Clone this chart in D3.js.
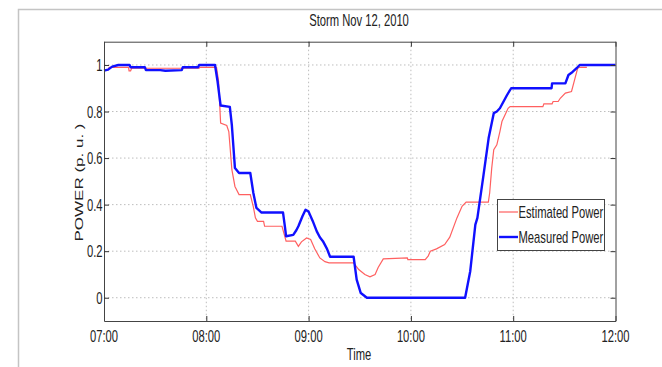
<!DOCTYPE html>
<html><head><meta charset="utf-8">
<script src="https://cdn.jsdelivr.net/npm/d3@7"></script>
<style>
html,body{margin:0;padding:0;background:#fff;}
svg{display:block;}
text{font-family:"Liberation Sans",Arial,sans-serif;fill:#222;}
</style></head>
<body>
<svg id="chart" width="662" height="367"></svg>
<script>
const title = "Storm Nov 12, 2010";
const xTickValues = [7, 8, 9, 10, 11, 12];
const xTickLabels = ["07:00", "08:00", "09:00", "10:00", "11:00", "12:00"];
const yTickValues = [0, 0.2, 0.4, 0.6, 0.8, 1];
const yTickLabels = ["0", "0.2", "0.4", "0.6", "0.8", "1"];
const seriesNames = ["Estimated Power", "Measured Power"];

// Measured power (blue): time in hours, value in p.u.
const measuredTime = [7.00,7.04,7.08,7.14,7.25,7.26,7.40,7.41,7.55,7.60,7.76,7.77,7.92,7.93,8.085,8.11,8.13,8.14,8.23,8.25,8.28,8.32,8.43,8.46,8.49,8.54,8.75,8.77,8.78,8.85,8.88,8.90,8.94,8.97,9.00,9.04,9.08,9.11,9.14,9.18,9.21,9.44,9.47,9.51,9.57,10.53,10.58,10.63,10.65,10.71,10.76,10.81,10.84,10.87,10.94,10.98,11.375,11.38,11.51,11.54,11.58,11.62,11.65,12.00];
const measuredValue = [0.976,0.98,0.993,1.0,1.0,0.99,0.99,0.978,0.978,0.975,0.978,0.99,0.99,1.0,1.0,0.93,0.86,0.826,0.82,0.74,0.557,0.536,0.536,0.45,0.386,0.366,0.366,0.30,0.264,0.27,0.29,0.307,0.35,0.378,0.37,0.33,0.285,0.26,0.243,0.21,0.176,0.176,0.078,0.02,0.0,0.0,0.114,0.314,0.343,0.528,0.686,0.793,0.80,0.814,0.871,0.9,0.9,0.921,0.921,0.957,0.97,0.986,1.0,1.0];

// Estimated power (red)
const estimatedTime = [7.00,7.04,7.05,7.24,7.245,7.26,7.27,7.93,7.94,8.10,8.12,8.14,8.20,8.22,8.25,8.28,8.32,8.43,8.46,8.48,8.50,8.56,8.57,8.74,8.78,8.87,8.90,8.93,8.98,9.02,9.06,9.11,9.16,9.20,9.44,9.49,9.55,9.60,9.65,9.68,9.73,9.965,9.97,10.14,10.17,10.19,10.25,10.33,10.38,10.45,10.50,10.54,10.757,10.77,10.79,10.81,10.84,10.87,10.89,10.95,10.97,11.29,11.30,11.38,11.39,11.44,11.46,11.51,11.57,11.60,11.63,11.65,11.72];
const estimatedValue = [0.98,0.98,0.99,0.99,0.975,0.975,0.986,0.986,0.99,0.99,0.93,0.75,0.74,0.714,0.55,0.478,0.443,0.443,0.39,0.343,0.328,0.328,0.307,0.307,0.243,0.243,0.221,0.24,0.257,0.25,0.21,0.171,0.155,0.15,0.15,0.121,0.10,0.09,0.10,0.13,0.167,0.171,0.164,0.164,0.18,0.2,0.21,0.228,0.26,0.343,0.393,0.411,0.411,0.45,0.557,0.636,0.657,0.714,0.757,0.814,0.821,0.821,0.833,0.833,0.843,0.843,0.857,0.879,0.886,0.936,0.986,0.99,0.99];

const W = 662, H = 367;
const m = {left:104, right:46.5, top:41.7, bottom:46};
const svg = d3.select("#chart");
const SX = 0.66; // horizontal squeeze of the original text
const FS = 17;

// figure frame
svg.append("path").attr("d", `M18.5,${H} L18.5,9.5 L${W},9.5`).attr("fill","none").attr("stroke","#c4c4c4").attr("stroke-width",1.5);

const x = d3.scaleLinear().domain([7,12]).range([m.left, W-m.right]);
const y = d3.scaleLinear().domain([-0.1,1.1]).range([H-m.bottom, m.top]);

const g = svg.append("g");
// grid
g.selectAll(".gx").data(xTickValues.slice(1,-1)).enter().append("line")
  .attr("x1",d=>x(d)).attr("x2",d=>x(d)).attr("y1",y(1.1)).attr("y2",y(-0.1))
  .attr("stroke","#bdbdbd").attr("stroke-dasharray","1.5,2.5").attr("stroke-width",1);
g.selectAll(".gy").data(yTickValues).enter().append("line")
  .attr("y1",d=>y(d)).attr("y2",d=>y(d)).attr("x1",x(7)).attr("x2",x(12))
  .attr("stroke","#bdbdbd").attr("stroke-dasharray","1.5,2.5").attr("stroke-width",1);

// lines
const line = d3.line().x(d=>x(d[0])).y(d=>y(d[1]));
const est = estimatedTime.map((t,i)=>[t, estimatedValue[i]]);
const mea = measuredTime.map((t,i)=>[t, measuredValue[i]]);
g.append("path").datum(est).attr("d",line).attr("fill","none").attr("stroke","#ff6060").attr("stroke-width",1.2);
g.append("path").datum(mea).attr("d",line).attr("fill","none").attr("stroke","#1010ff").attr("stroke-width",2.4).attr("stroke-linejoin","round");

// axes box
const bottomAxis = d3.axisBottom(x).tickValues(xTickValues).tickSizeInner(-5).tickSizeOuter(0).tickFormat("");
const topAxis = d3.axisTop(x).tickValues(xTickValues).tickSizeInner(-5).tickSizeOuter(0).tickFormat("");
const leftAxis = d3.axisLeft(y).tickValues(yTickValues).tickSizeInner(-5).tickSizeOuter(0).tickFormat("");
const rightAxis = d3.axisRight(y).tickValues(yTickValues).tickSizeInner(-5).tickSizeOuter(0).tickFormat("");
function styleAxis(s){ s.selectAll("path,line").attr("stroke","#333"); s.select(".domain").attr("stroke","#444"); }
svg.append("g").attr("transform",`translate(0,${y(-0.1)})`).call(bottomAxis).call(styleAxis);
svg.append("g").attr("transform",`translate(0,${y(1.1)})`).call(topAxis).call(styleAxis);
svg.append("g").attr("transform",`translate(${x(7)},0)`).call(leftAxis).call(styleAxis);
svg.append("g").attr("transform",`translate(${x(12)},0)`).call(rightAxis).call(styleAxis);

// tick labels
svg.selectAll(".xl").data(xTickValues).enter().append("text")
  .attr("transform",(d)=>`translate(${x(d)},342) scale(${SX},1)`)
  .attr("text-anchor","middle").style("font-size",FS+"px")
  .text((d,i)=>xTickLabels[i]);
svg.selectAll(".yl").data(yTickValues).enter().append("text")
  .attr("transform",(d)=>`translate(102.5,${y(d)+6}) scale(${SX},1)`)
  .attr("text-anchor","end").style("font-size",FS+"px")
  .text((d,i)=>yTickLabels[i]);

// title and axis labels
svg.append("text").attr("transform",`translate(359,26) scale(${SX},1)`).attr("text-anchor","middle").style("font-size",FS+"px").text(title);
svg.append("text").attr("transform",`translate(359,360) scale(${SX},1)`).attr("text-anchor","middle").style("font-size",FS+"px").text("Time");
svg.append("text").attr("transform",`translate(83,182.5) scale(${SX},1) rotate(-90)`).attr("text-anchor","middle").style("font-size",FS+"px").text("POWER (p. u. )");

// legend
const lg = svg.append("g");
lg.append("rect").attr("x",497.5).attr("y",199.5).attr("width",107).attr("height",51).attr("fill","#fff").attr("stroke","#444").attr("stroke-width",1);
const colors = ["#ff6060","#1010ff"], widths=[1.2,2.4];
seriesNames.forEach((n,i)=>{
  const yy = 212 + i*25;
  lg.append("line").attr("x1",499).attr("x2",518).attr("y1",yy).attr("y2",yy).attr("stroke",colors[i]).attr("stroke-width",widths[i]);
  lg.append("text").attr("transform",`translate(518.5,${yy+6}) scale(${SX},1)`).style("font-size",FS+"px").text(n);
});
</script>
</body></html>
